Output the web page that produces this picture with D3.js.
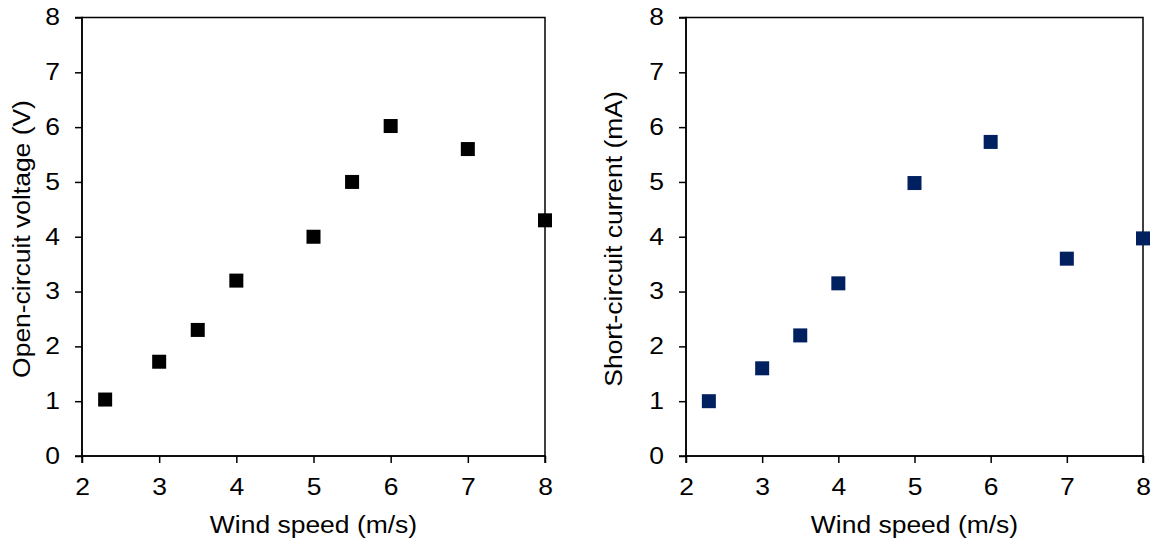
<!DOCTYPE html>
<html>
<head>
<meta charset="utf-8">
<script src="https://cdn.jsdelivr.net/npm/d3@7"></script>
<style>
  body { margin: 0; background: #fff; }
  svg { display: block; font-family: "Liberation Sans", Arial, sans-serif; }
</style>
</head>
<body>
<svg id="chart" width="1155" height="545"></svg>
<script>
const windSpeed = [2.3, 3, 3.5, 4, 5, 5.5, 6, 7, 8];
const voltage = [1.03, 1.72, 2.3, 3.2, 4.0, 5.0, 6.02, 5.6, 4.3];
const windSpeed2 = [2.3, 3, 3.5, 4, 5, 6, 7, 8];
const current = [1.0, 1.6, 2.2, 3.15, 4.98, 5.73, 3.6, 3.97];
const xTicks = [2, 3, 4, 5, 6, 7, 8];
const yTicks = [0, 1, 2, 3, 4, 5, 6, 7, 8];

const svg = d3.select("#chart");
const STRETCH = 1.15;
const FS = "23px";

function widen(sel) {
  sel.each(function () {
    const w = this.getComputedTextLength();
    d3.select(this).attr("textLength", w * STRETCH).attr("lengthAdjust", "spacingAndGlyphs");
  });
}

function panel(opts) {
  const g = svg.append("g");
  const x = d3.scaleLinear().domain([2, 8]).range([opts.left, opts.right]);
  const y = d3.scaleLinear().domain([0, 8]).range([456, 17.5]);

  g.append("rect")
    .attr("x", opts.left).attr("y", y(8))
    .attr("width", opts.right - opts.left).attr("height", y(0) - y(8))
    .attr("fill", "none").attr("stroke", "#000").attr("stroke-width", 1.5);

  const xa = g.append("g").attr("transform", `translate(0,${y(0)})`)
    .call(d3.axisBottom(x).tickValues(xTicks).tickSize(7).tickPadding(16).tickFormat(d3.format("d")));
  const ya = g.append("g").attr("transform", `translate(${opts.left},0)`)
    .call(d3.axisLeft(y).tickValues(yTicks).tickSize(7).tickPadding(15).tickFormat(d3.format("d")));
  [xa, ya].forEach(a => {
    a.attr("font-size", null).attr("font-family", null);
    a.select(".domain").attr("stroke", "#000").attr("stroke-width", 1.5);
    a.selectAll(".tick line").attr("stroke", "#000").attr("stroke-width", 1.5);
    a.selectAll(".tick text").attr("fill", "#000").style("font-size", FS)
      .style("font-family", "'Liberation Sans', Arial, sans-serif");
    widen(a.selectAll(".tick text"));
  });
  ya.select(".domain").attr("d", `M-7,${y(8)}H0V${y(0)}H-7`);
  xa.select(".domain").attr("d", `M${opts.left},7V0H${opts.right}V7`);

  g.selectAll("rect.pt").data(opts.xs.map((d, i) => [d, opts.ys[i]]))
    .enter().append("rect").attr("class", "pt")
    .attr("x", d => x(d[0]) - 7).attr("y", d => y(d[1]) - 7)
    .attr("width", 14).attr("height", 14).attr("fill", opts.color);

  const xt = g.append("text").attr("x", (opts.left + opts.right) / 2).attr("y", 533)
    .attr("text-anchor", "middle").style("font-size", FS).attr("fill", "#000")
    .text("Wind speed (m/s)");
  widen(xt);
  const yt = g.append("text")
    .attr("transform", `translate(${opts.titleX},${opts.titleY}) rotate(-90)`)
    .attr("text-anchor", "middle").style("font-size", FS).attr("fill", "#000")
    .text(opts.yTitle);
  widen(yt);
}

panel({ left: 82, right: 545, xs: windSpeed, ys: voltage, color: "#000000",
        yTitle: "Open-circuit voltage (V)", titleX: 30, titleY: 239 });
panel({ left: 686, right: 1143, xs: windSpeed2, ys: current, color: "#002060",
        yTitle: "Short-circuit current (mA)", titleX: 622, titleY: 239 });
</script>
</body>
</html>
